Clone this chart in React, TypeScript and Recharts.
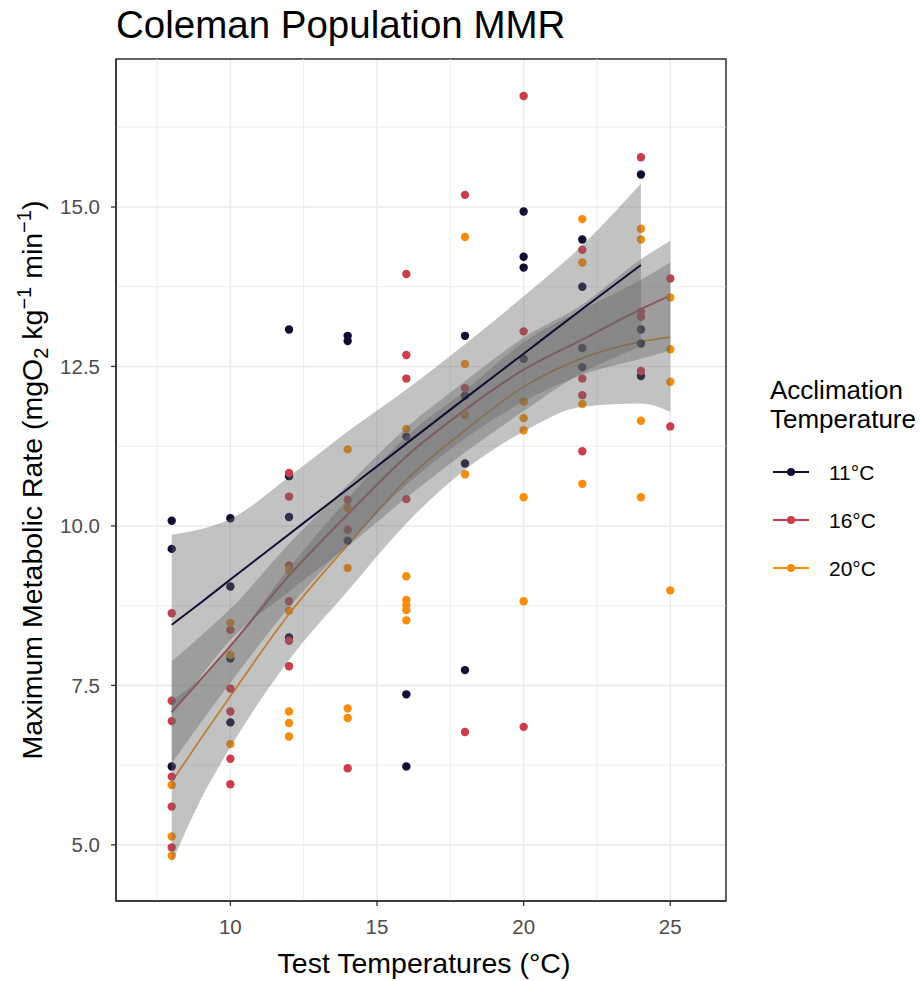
import {
  Area,
  CartesianGrid,
  ComposedChart,
  Line,
  ReferenceArea,
  ReferenceLine,
  Scatter,
  XAxis,
  YAxis,
} from "recharts";

// axis layout (values, not pixels)
const xDomain = [6.1, 26.9];
const yDomain = [4.12, 17.32];
const xTicks = [10, 15, 20, 25];
const xMinor = [7.5, 12.5, 17.5, 22.5];
const yTicks = [5, 7.5, 10, 12.5, 15];
const yMinor = [6.25, 8.75, 11.25, 13.75, 16.25];

const groups = ["11°C", "16°C", "20°C"];
const colors = ["#150C33", "#CC3D4B", "#F98C0B"];

// raw observations: [test temperature, MMR]
const obs11: [number, number][] = [
  [8, 10.08], [8, 9.64], [8, 6.23],
  [10, 10.12], [10, 9.05], [10, 7.92], [10, 6.92],
  [12, 13.08], [12, 10.78], [12, 10.14], [12, 8.25],
  [14, 12.98], [14, 12.9], [14, 9.77],
  [16, 11.4], [16, 7.36], [16, 6.23],
  [18, 12.98], [18, 12.04], [18, 10.98], [18, 7.74],
  [20, 14.93], [20, 14.22], [20, 14.05], [20, 12.62],
  [22, 14.49], [22, 13.75], [22, 12.79], [22, 12.49],
  [24, 15.51], [24, 13.08], [24, 12.86], [24, 12.35],
];

const obs16: [number, number][] = [
  [8, 8.63], [8, 7.26], [8, 6.94], [8, 6.07], [8, 5.6], [8, 4.96],
  [10, 8.37], [10, 7.45], [10, 7.09], [10, 6.35], [10, 5.95],
  [12, 10.83], [12, 10.46], [12, 9.38], [12, 8.82], [12, 8.2], [12, 7.8],
  [14, 10.41], [14, 9.94], [14, 6.2],
  [16, 13.95], [16, 12.68], [16, 12.31], [16, 10.42],
  [18, 15.19], [18, 12.16], [18, 6.77],
  [20, 16.74], [20, 13.05], [20, 6.85],
  [22, 14.33], [22, 12.31], [22, 12.05], [22, 11.17],
  [24, 15.78], [24, 13.36], [24, 13.28], [24, 12.43],
  [25, 13.88], [25, 11.56],
];

const obs20: [number, number][] = [
  [8, 5.94], [8, 5.13], [8, 4.83],
  [10, 8.48], [10, 7.98], [10, 6.58],
  [12, 9.31], [12, 8.67], [12, 7.09], [12, 6.91], [12, 6.7],
  [14, 11.2], [14, 10.28], [14, 9.34], [14, 7.14], [14, 6.99],
  [16, 11.52], [16, 9.21], [16, 8.84], [16, 8.76], [16, 8.68], [16, 8.52],
  [18, 14.53], [18, 12.54], [18, 11.74], [18, 10.81],
  [20, 11.95], [20, 11.69], [20, 11.5], [20, 10.45], [20, 8.82],
  [22, 14.81], [22, 14.13], [22, 11.91], [22, 10.66],
  [24, 14.66], [24, 14.49], [24, 11.65], [24, 10.45],
  [25, 13.58], [25, 12.77], [25, 12.26], [25, 8.99],
];

// smoother fit + confidence band
const fitX11 = [8, 9, 10, 12, 14, 16, 18, 20, 22, 24];
const fit11 = [8.45, 8.8, 9.16, 9.87, 10.58, 11.29, 12.0, 12.7, 13.4, 14.09];
const lo11 = [7.04, 7.65, 8.21, 8.97, 9.68, 10.44, 11.15, 11.8, 12.4, 12.81];
const hi11 = [9.86, 9.95, 10.11, 10.77, 11.48, 12.14, 12.85, 13.6, 14.4, 15.37];

const fitX = [8, 9, 10, 12, 14, 16, 18, 20, 22, 24, 25];
const fit16 = [7.08, 7.6, 8.12, 9.22, 10.18, 11.09, 11.82, 12.45, 12.92, 13.4, 13.61];
const lo16 = [6.28, 6.92, 7.54, 8.72, 9.72, 10.64, 11.37, 11.95, 12.37, 12.62, 12.75];
const hi16 = [7.88, 8.28, 8.7, 9.72, 10.64, 11.54, 12.27, 12.95, 13.47, 14.18, 14.47];

const fit20 = [5.99, 6.67, 7.33, 8.62, 9.7, 10.72, 11.5, 12.18, 12.63, 12.89, 12.96];
const lo20 = [4.72, 5.72, 6.53, 7.9, 8.98, 10.04, 10.88, 11.48, 11.87, 11.92, 11.79];
const hi20 = [7.26, 7.62, 8.13, 9.34, 10.42, 11.4, 12.12, 12.88, 13.39, 13.86, 14.13];

const toPoints = (obs: [number, number][]) => obs.map(([x, y]) => ({ x, y }));
const toLine = (xs: number[], ys: number[]) => xs.map((x, i) => ({ x, y: ys[i] }));
const toBand = (xs: number[], lo: number[], hi: number[]) =>
  xs.map((x, i) => ({ x, band: [lo[i], hi[i]] }));

const series = [
  { pts: toPoints(obs11), line: toLine(fitX11, fit11), band: toBand(fitX11, lo11, hi11) },
  { pts: toPoints(obs16), line: toLine(fitX, fit16), band: toBand(fitX, lo16, hi16) },
  { pts: toPoints(obs20), line: toLine(fitX, fit20), band: toBand(fitX, lo20, hi20) },
];

// stacking: points < red/orange fits < bands < dark fit
const lineZ = [700, 420, 420];

const FONT = "'Liberation Sans', Arial, Helvetica, sans-serif";
const GRID = "#EBEBEB";

function Dot(props: any, color: string) {
  const { cx, cy } = props;
  if (cx == null || cy == null) return null;
  return <circle cx={cx} cy={cy} r={4.2} fill={color} />;
}

export default function App() {
  return (
    <div style={{ position: "relative", width: 920, height: 981, fontFamily: FONT }}>
      <style>{`body{margin:0}`}</style>
      <ComposedChart
        width={920}
        height={981}
        margin={{ top: 59, right: 194, bottom: 0, left: 0 }}
      >
        <CartesianGrid stroke={GRID} strokeWidth={1.6} />
        {xMinor.map((v) => (
          <ReferenceLine key={`xm${v}`} x={v} stroke={GRID} strokeWidth={0.9} />
        ))}
        {yMinor.map((v) => (
          <ReferenceLine key={`ym${v}`} y={v} stroke={GRID} strokeWidth={0.9} />
        ))}
        <XAxis
          dataKey="x"
          type="number"
          domain={xDomain}
          ticks={xTicks}
          allowDataOverflow
          height={80}
          tickSize={5}
          tickMargin={13}
          axisLine={{ stroke: "#333", strokeWidth: 1.5 }}
          tickLine={{ stroke: "#333", strokeWidth: 1.3 }}
          tick={{ fill: "#4D4D4D", fontSize: 20.5, fontFamily: FONT }}
        />
        <YAxis
          type="number"
          domain={yDomain}
          ticks={yTicks}
          allowDataOverflow
          width={116}
          tickSize={5}
          tickMargin={11}
          axisLine={{ stroke: "#333", strokeWidth: 1.5 }}
          tickLine={{ stroke: "#333", strokeWidth: 1.3 }}
          tick={{ fill: "#4D4D4D", fontSize: 20.5, fontFamily: FONT }}
          tickFormatter={(v: number) => v.toFixed(1)}
        />
        {series.map((s, i) => (
          <Scatter
            key={`p${i}`}
            data={s.pts}
            dataKey="y"
            isAnimationActive={false}
            shape={(p: any) => Dot(p, colors[i])}
          />
        ))}
        {series.map((s, i) => (
          <Area
            key={`b${i}`}
            data={s.band}
            dataKey="band"
            type="monotone"
            stroke="none"
            fill="#666666"
            fillOpacity={0.4}
            activeDot={false}
            isAnimationActive={false}
            zIndex={650}
          />
        ))}
        {series.map((s, i) => (
          <Line
            key={`l${i}`}
            data={s.line}
            dataKey="y"
            type="monotone"
            stroke={colors[i]}
            strokeWidth={i === 2 ? 1.7 : 2}
            dot={false}
            activeDot={false}
            isAnimationActive={false}
            zIndex={lineZ[i]}
          />
        ))}
        <ReferenceArea
          x1={xDomain[0]}
          x2={xDomain[1]}
          y1={yDomain[0]}
          y2={yDomain[1]}
          fill="none"
          stroke="#333"
          strokeWidth={1.5}
          ifOverflow="visible"
        />
      </ComposedChart>

      <svg
        width={920}
        height={981}
        style={{ position: "absolute", left: 0, top: 0, pointerEvents: "none" }}
        fontFamily={FONT}
      >
        <text x={116} y={38} fontSize={38.5} fill="#000">
          Coleman Population MMR
        </text>
        <text x={424} y={973} fontSize={28.5} fill="#000" textAnchor="middle">
          Test Temperatures (°C)
        </text>
        <text
          transform="translate(42,480) rotate(-90)"
          fontSize={28.5}
          fill="#000"
          textAnchor="middle"
        >
          Maximum Metabolic Rate (mgO
          <tspan dy={6} fontSize={20}>2</tspan>
          <tspan dy={-6}> kg</tspan>
          <tspan dy={-11} fontSize={20}>−1</tspan>
          <tspan dy={11}> min</tspan>
          <tspan dy={-11} fontSize={20}>−1</tspan>
          <tspan dy={11}>)</tspan>
        </text>

        <text x={770} y={399} fontSize={26} fill="#000">Acclimation</text>
        <text x={770} y={428} fontSize={26} fill="#000">Temperature</text>
        {groups.map((g, i) => {
          const cy = 472 + i * 48;
          return (
            <g key={g}>
              <line x1={773} x2={809} y1={cy} y2={cy} stroke={colors[i]} strokeWidth={2} />
              <circle cx={791} cy={cy} r={4} fill={colors[i]} />
              <text x={829} y={cy} fontSize={21} fill="#000" dominantBaseline="central">
                {g}
              </text>
            </g>
          );
        })}
      </svg>
    </div>
  );
}
